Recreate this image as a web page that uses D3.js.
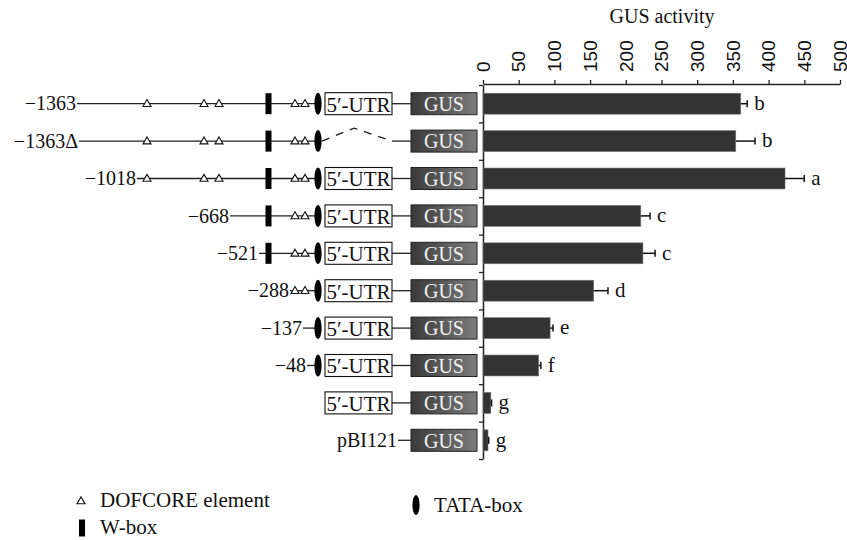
<!DOCTYPE html>
<html>
<head>
<meta charset="utf-8">
<script src="https://cdn.jsdelivr.net/npm/d3@7"></script>
<style>
  body { margin: 0; background: #fff; }
  svg { font-family: "Liberation Serif", "Times New Roman", serif; }
</style>
</head>
<body>
<div id="chart"></div>
<script>
// constructs, top to bottom
const constructs = ['−1363', '−1363Δ', '−1018', '−668', '−521', '−288', '−137', '−48', '', 'pBI121'];
const gusActivity = [361, 354, 423, 221, 224, 155, 94, 78, 11, 7];
const gusError = [9, 27, 27, 13, 17, 20, 4, 3, 1, 1];
const sigLetters = ['b', 'b', 'a', 'c', 'c', 'd', 'e', 'f', 'g', 'g'];
const xTicks = [0, 50, 100, 150, 200, 250, 300, 350, 400, 450, 500];

// which promoter features each construct carries (1 = present)
const distalDof = [1, 1, 1, 0, 0, 0, 0, 0, 0, 0];
const wBox      = [1, 1, 1, 1, 1, 0, 0, 0, 0, 0];
const proxDof   = [1, 1, 1, 1, 1, 1, 0, 0, 0, 0];
const tataBox   = [1, 1, 1, 1, 1, 1, 1, 1, 0, 0];
const utr       = [1, 0, 1, 1, 1, 1, 1, 1, 1, 0]; // 0 on row 2 = deleted

// schematic layout (pixels)
const labelEnd = [76, 78, 136, 229, 258, 289, 302, 306, 0, 397];
const pos = { dof: [147, 204, 219], wbox: 268.5, prox: [295, 305], tata: 318,
              utrL: 325, utrR: 392, gusL: 411, gusR: 477 };

const W = 847, H = 540;
const svg = d3.select('#chart').append('svg').attr('width', W).attr('height', H);

const x = d3.scaleLinear().domain([0, 500]).range([483, 840]);
const y = d3.scaleBand().domain(d3.range(constructs.length)).range([85, 459]).paddingInner(0.44).paddingOuter(0.22);
const rowY = i => y(i) + y.bandwidth() / 2;

// top axis
const xAxis = svg.append('g')
    .attr('transform', 'translate(0,84)')
    .call(d3.axisTop(x).tickValues(xTicks).tickSize(4).tickSizeOuter(0));
xAxis.select('.domain').attr('stroke', '#222').attr('stroke-width', 1.5);
xAxis.selectAll('.tick line').attr('stroke', '#222').attr('stroke-width', 1.3);
xAxis.selectAll('.tick text')
    .attr('font-size', 19).attr('fill', '#111')
    .attr('transform', 'rotate(-90)')
    .attr('x', 12).attr('y', 0).attr('dy', '0.33em')
    .attr('text-anchor', 'start');

svg.append('text').attr('x', 662).attr('y', 23).attr('text-anchor', 'middle')
    .attr('font-size', 20).attr('fill', '#111').text('GUS activity');

// left axis with ticks between rows
const yEdge = d3.scaleLinear().domain([0, constructs.length]).range([85, 459]);
const yAxis = svg.append('g')
    .attr('transform', 'translate(483,0)')
    .call(d3.axisLeft(yEdge).tickValues(d3.range(0, constructs.length + 1)).tickSize(4).tickSizeOuter(0).tickFormat(''));
yAxis.select('.domain').attr('stroke', '#222').attr('stroke-width', 1.5);
yAxis.selectAll('.tick line').attr('stroke', '#222').attr('stroke-width', 1.3);

// bars
const rows = constructs.map((c, i) => ({ i, c, v: gusActivity[i], e: gusError[i], l: sigLetters[i] }));
svg.append('g').selectAll('rect').data(rows).join('rect')
    .attr('x', x(0)).attr('y', d => y(d.i))
    .attr('width', d => x(d.v) - x(0)).attr('height', y.bandwidth())
    .attr('fill', '#333').attr('stroke', '#777').attr('stroke-width', 0.6);

const err = svg.append('g').attr('stroke', '#111').attr('stroke-width', 1.5);
err.selectAll('line.h').data(rows).join('line').attr('class', 'h')
    .attr('x1', d => x(d.v)).attr('x2', d => x(d.v + d.e))
    .attr('y1', d => rowY(d.i)).attr('y2', d => rowY(d.i));
err.selectAll('line.c').data(rows).join('line').attr('class', 'c')
    .attr('x1', d => x(d.v + d.e)).attr('x2', d => x(d.v + d.e))
    .attr('y1', d => rowY(d.i) - 3.5).attr('y2', d => rowY(d.i) + 3.5);

svg.append('g').selectAll('text').data(rows).join('text')
    .attr('x', d => x(d.v + d.e) + 7).attr('y', d => rowY(d.i)).attr('dy', '0.3em')
    .attr('font-size', 21).attr('fill', '#111').text(d => d.l);

// gradient for GUS boxes
const grad = svg.append('defs').append('linearGradient').attr('id', 'gusGrad');
grad.append('stop').attr('offset', '0%').attr('stop-color', '#3a3a3a');
grad.append('stop').attr('offset', '100%').attr('stop-color', '#7c7c7c');

const triangle = d3.symbol().type(d3.symbolTriangle).size(28);

function drawTri(g, cx, cy) {
  g.append('path').attr('d', triangle).attr('transform', `translate(${cx},${cy + 0.5})`)
      .attr('fill', '#fff').attr('stroke', '#111').attr('stroke-width', 1.1);
}
function drawWbox(g, cx, cy, h) {
  g.append('rect').attr('x', cx - 3).attr('y', cy - h / 2).attr('width', 6).attr('height', h).attr('fill', '#000');
}
function drawTata(g, cx, cy, ry) {
  g.append('ellipse').attr('cx', cx).attr('cy', cy).attr('rx', 3.6).attr('ry', ry).attr('fill', '#000');
}

// schematic constructs
rows.forEach(d => {
  const i = d.i, cy = rowY(i);
  const g = svg.append('g');
  const line = (x1, x2) => g.append('line').attr('x1', x1).attr('x2', x2).attr('y1', cy).attr('y2', cy)
      .attr('stroke', '#222').attr('stroke-width', 1.3);

  if (d.c) {
    g.append('text').attr('x', labelEnd[i]).attr('y', cy).attr('dy', '0.33em')
        .attr('text-anchor', 'end').attr('font-size', 20).attr('fill', '#111').text(d.c);
  }
  // promoter backbone
  if (tataBox[i]) line(labelEnd[i] + 1, pos.tata);
  if (i === constructs.length - 1) line(labelEnd[i] + 1, pos.gusL);

  if (distalDof[i]) pos.dof.forEach(px => drawTri(g, px, cy));
  if (wBox[i]) drawWbox(g, pos.wbox, cy, 21);
  if (proxDof[i]) pos.prox.forEach(px => drawTri(g, px, cy));
  if (tataBox[i]) drawTata(g, pos.tata, cy, 11);

  // 5'-UTR box or its deletion
  if (utr[i]) {
    line(pos.utrR, pos.gusL);
    g.append('rect').attr('x', pos.utrL).attr('y', cy - 11).attr('width', pos.utrR - pos.utrL).attr('height', 22)
        .attr('fill', '#fff').attr('stroke', '#111').attr('stroke-width', 1.1);
    g.append('text').attr('x', (pos.utrL + pos.utrR) / 2).attr('y', cy).attr('dy', '0.38em')
        .attr('text-anchor', 'middle').attr('font-size', 21).attr('fill', '#111').text('5′-UTR');
  } else if (tataBox[i]) {
    g.append('path')
        .attr('d', d3.line()([[pos.tata + 4, cy], [pos.tata + 36, cy - 13], [pos.utrR, cy]]))
        .attr('fill', 'none').attr('stroke', '#222').attr('stroke-width', 1.3).attr('stroke-dasharray', '8,7');
    line(pos.utrR, pos.gusL);
  }

  // GUS reporter
  g.append('rect').attr('x', pos.gusL).attr('y', cy - 11).attr('width', pos.gusR - pos.gusL).attr('height', 22)
      .attr('fill', 'url(#gusGrad)').attr('stroke', '#222').attr('stroke-width', 1);
  g.append('text').attr('x', (pos.gusL + pos.gusR) / 2).attr('y', cy).attr('dy', '0.36em')
      .attr('text-anchor', 'middle').attr('font-size', 20).attr('fill', '#f2f2f2').text('GUS');
});

// legend
const lg = svg.append('g').attr('font-size', 21).attr('fill', '#111');
drawTri(lg, 81, 501);
lg.append('text').attr('x', 100).attr('y', 507).text('DOFCORE element');
drawWbox(lg, 82, 528, 17);
lg.append('text').attr('x', 100).attr('y', 534).text('W-box');
drawTata(lg, 416, 505, 10);
lg.append('text').attr('x', 434).attr('y', 512).text('TATA-box');
</script>
</body>
</html>
